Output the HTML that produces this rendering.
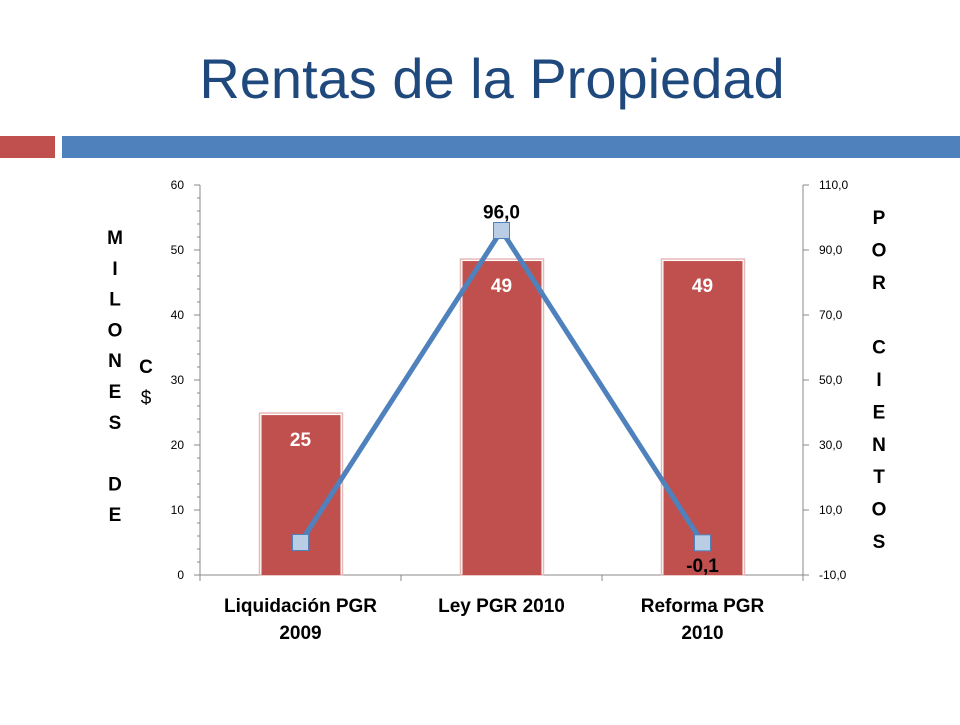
<!DOCTYPE html>
<html><head><meta charset="utf-8"><style>
body{margin:0;width:960px;height:720px;background:#fff;overflow:hidden;font-family:"Liberation Sans",sans-serif}
</style></head><body>
<svg width="960" height="720" viewBox="0 0 960 720">
<text x="492" y="98" text-anchor="middle" font-size="56" fill="#1f497d">Rentas de la Propiedad</text>
<rect x="0" y="136" width="55" height="22" fill="#c0504d"/>
<rect x="62" y="136" width="898" height="22" fill="#4f81bd"/>
<g id="chart"></g>
</svg>
<script>
const categories=[["Liquidación PGR","2009"],["Ley PGR 2010"],["Reforma PGR","2010"]];
const barValues=[24.6,48.3,48.3];
const barLabels=["25","49","49"];
const lineValues=[0,96,-0.1];
const lineLabels=["","96,0","-0,1"];
const leftTicks=[0,10,20,30,40,50,60];
const rightTicks=[-10,10,30,50,70,90,110];
const rightTickLabels=["-10,0","10,0","30,0","50,0","70,0","90,0","110,0"];

const NS="http://www.w3.org/2000/svg";
const g=document.getElementById('chart');
const X0=200,X1=803,Y0=575,Y1=185;
const yL=v=>Y0-(v-0)/(60-0)*(Y0-Y1);
const yR=v=>Y0-(v+10)/(120)*(Y0-Y1);
const band=(X1-X0)/categories.length;
const xC=i=>X0+band*(i+0.5);
function el(t,a,txt){const e=document.createElementNS(NS,t);for(const k in a)e.setAttribute(k,a[k]);if(txt!==undefined)e.textContent=txt;g.appendChild(e);return e;}

// axes
let ax=el('line',{x1:X0,y1:Y1,x2:X0,y2:Y0,stroke:'#888'});


ax=el('line',{x1:X1,y1:Y1,x2:X1,y2:Y0,stroke:'#888'});


ax=el('line',{x1:X0,y1:Y0,x2:X1,y2:Y0,stroke:'#888'});


for(let i=0;i<=categories.length;i++){const x=X0+band*i;const t=el('line',{x1:x,y1:Y0,x2:x,y2:Y0+6,stroke:'#888'});

}
for(let v=0;v<=60;v+=2){const y=yL(v);el('line',{x1:X0-(v%10?3:6),y1:y,x2:X0,y2:y,stroke:'#888'});}
leftTicks.forEach(v=>{const t=el('text',{x:X0-16,y:yL(v)+4,'text-anchor':'end','font-size':12,fill:'#000'},String(v));

});
rightTicks.forEach((v,i)=>{const y=yR(v);el('line',{x1:X1,y1:y,x2:X1+6,y2:y,stroke:'#888'});
const t=el('text',{x:X1+16,y:y+4,'font-size':12,fill:'#000'},rightTickLabels[i]);

});

// bars
barValues.forEach((v,i)=>{const x=xC(i)-39,w=79,y=yL(v);
el('rect',{x:x-2,y:y-2,width:w+4,height:Y0-y+2,fill:'none',stroke:'#e6b9b8','stroke-width':1.5});
const b=el('rect',{x:x,y:y,width:w,height:Y0-y,fill:'#c0504d'});


const t=el('text',{x:xC(i),y:y+31,'text-anchor':'middle','font-size':19,'font-weight':'bold',fill:'#fff'},barLabels[i]);

});

// line
const pts=lineValues.map((v,i)=>xC(i)+','+yR(v)).join(' ');
const pl=el('polyline',{points:pts,fill:'none',stroke:'#4f81bd','stroke-width':5});


lineValues.forEach((v,i)=>{const x=xC(i),y=yR(v);
const m=el('rect',{x:x-8,y:y-8,width:16,height:16,fill:'#b9cde5',stroke:'#4f81bd','stroke-width':1});


if(lineLabels[i]){const ly=v>50?y-12:y+29;const t=el('text',{x:x,y:ly,'text-anchor':'middle','font-size':19,'font-weight':'bold',fill:'#000'},lineLabels[i]);

}});

// category labels
categories.forEach((c,i)=>c.forEach((s,j)=>{const t=el('text',{x:xC(i),y:612+j*27,'text-anchor':'middle','font-size':19,'font-weight':'bold',fill:'#000'},s);

}));

// axis titles (vertical letters)
"MILONESDE".split('').forEach((ch,i)=>{});
const leftLetters=["M","I","L","O","N","E","S","","D","E"];
leftLetters.forEach((ch,i)=>{if(!ch)return;const t=el('text',{x:115,y:244+i*30.8,'text-anchor':'middle','font-size':19,'font-weight':'bold',fill:'#000'},ch);

});
[["C",373,'bold'],["$",404,'normal']].forEach(a=>{const t=el('text',{x:146,y:a[1],'text-anchor':'middle','font-size':19,'font-weight':a[2],fill:'#000'},a[0]);

});
const rightLetters=["P","O","R","","C","I","E","N","T","O","S"];
rightLetters.forEach((ch,i)=>{if(!ch)return;const t=el('text',{x:879,y:224+i*32.4,'text-anchor':'middle','font-size':19,'font-weight':'bold',fill:'#000'},ch);

});
</script>
</body></html>
